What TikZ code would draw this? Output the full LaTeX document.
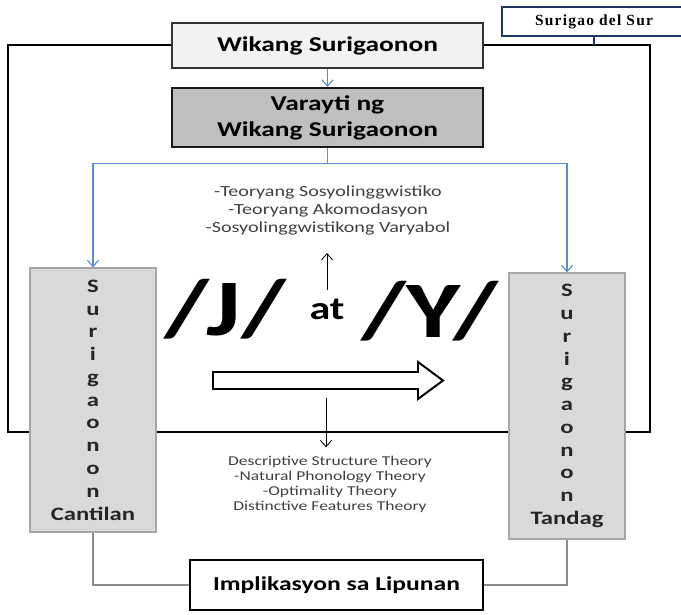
\documentclass[tikz,border=0pt]{standalone}
\usepackage{fontspec}
\setmainfont{Carlito}
\newfontfamily\widefont{Carlito}[FakeStretch=1.3]
\newfontfamily\regionfont{Liberation Serif}[LetterSpace=8]
\usetikzlibrary{arrows.meta,positioning}
\definecolor{linkblue}{HTML}{5B8CCB}
\definecolor{regionblue}{HTML}{1F3864}
\definecolor{inkgray}{HTML}{404040}
\tikzset{
  frame/.style={draw=black, line width=1.8pt},
  regionbox/.style={
    draw=regionblue,
    line width=1.8pt,
    fill=white,
    minimum width=4.6cm,
    minimum height=0.725cm,
    font=\regionfont\bfseries\fontsize{11}{13}\selectfont
  },
  titlebox/.style={
    draw=black!80,
    fill=black!5,
    line width=1.4pt,
    minimum width=7.775cm,
    minimum height=1.125cm,
    align=center,
    font=\widefont\bfseries\fontsize{15}{18.5}\selectfont
  },
  varietybox/.style={
    titlebox,
    draw=black!90,
    fill=black!25,
    line width=1.6pt,
    minimum height=1.475cm
  },
  placebox/.style={
    draw=black!35,
    fill=black!15,
    line width=0.8pt,
    align=center,
    text=black!85,
    font=\widefont\bfseries\fontsize{13.5}{16.2}\selectfont
  },
  impactbox/.style={
    draw=black,
    fill=white,
    line width=2pt,
    minimum width=7.325cm,
    minimum height=1.25cm,
    font=\widefont\bfseries\fontsize{14}{17}\selectfont
  },
  theory/.style={align=center, inner sep=0pt, text=inkgray},
  phoneme/.style={inner sep=0pt, font=\widefont\bfseries\fontsize{57}{60}\selectfont},
  joinword/.style={inner sep=0pt, font=\widefont\bfseries\fontsize{23}{25}\selectfont},
  shiftarrow/.style={draw=black, line width=1.4pt, fill=white},
  pointer/.style={-{Straight Barb[length=1.6mm,width=2.8mm]}, line width=0.6pt},
  bluelink/.style={draw=linkblue, line width=0.8pt, -{Straight Barb[length=1.6mm,width=2.8mm]}},
  bluebranch/.style={draw=linkblue, line width=0.8pt},
  outlink/.style={draw=black!45, line width=0.8pt},
  regionlink/.style={draw=regionblue, line width=1.8pt}
}
\begin{document}
\begin{tikzpicture}[x=0.025cm, y=-0.025cm]
  \useasboundingbox (0,0) rectangle (681,614);

  % outer frame
  \coordinate (frameNW) at (8,45);
  \coordinate (frameSE) at (650,432);
  \draw[frame] (frameNW) rectangle (frameSE);

  \node[regionbox] (region) at (594,21.5) {Surigao del Sur};
  \node[titlebox] (title) at (327.5,45.5) {Wikang Surigaonon};
  \node[varietybox, below=0.45cm of title] (variety) {Varayti ng\\Wikang Surigaonon};

  \node[placebox, minimum width=3.15cm, minimum height=6.6cm] (cantilan) at (93,400)
    {S\\u\\r\\i\\g\\a\\o\\n\\o\\n\\Cantilan};
  \node[placebox, minimum width=2.9cm, minimum height=6.65cm] (tandag) at (567,406)
    {S\\u\\r\\i\\g\\a\\o\\n\\o\\n\\Tandag};

  \node[impactbox] (impact) at (336.5,585) {Implikasyon sa Lipunan};

  \node[theory, font=\widefont\fontsize{11}{12.8}\selectfont] (socio) at (328,210)
    {-Teoryang Sosyolinggwistiko\\-Teoryang Akomodasyon\\-Sosyolinggwistikong Varyabol};
  \node[theory, font=\widefont\fontsize{9.6}{10.7}\selectfont] (structure) at (330,484)
    {Descriptive Structure Theory\\-Natural Phonology Theory\\-Optimality Theory\\Distinctive Features Theory};

  \node[phoneme, anchor=base] (jsound) at (225,335) {/J/};
  \node[joinword, anchor=base] (at) at (327,319) {at};
  \node[phoneme, anchor=base] (ysound) at (430,337) {/Y/};

  % hollow shift arrow
  \draw[shiftarrow] (213,372) -- (418,372) -- (418,362) -- (443,380.5)
    -- (418,399) -- (418,389) -- (213,389) -- cycle;
  \coordinate (dropfoot) at (326,398);

  \draw[pointer, shorten <=0.2cm, shorten >=0.45cm] (at.north) -- (at.north |- socio.south);
  \draw[pointer, shorten >=0.2cm] (dropfoot) -- (dropfoot |- structure.north);

  \draw[bluelink] (title) -- (variety);
  \draw[bluebranch] (variety.south) -- ++(0,15) coordinate (fork);
  \draw[bluelink] (fork) -| (cantilan.north);
  \draw[bluelink] (fork) -| (tandag.north);

  \draw[outlink] (cantilan.south) |- (impact.west);
  \draw[outlink] (tandag.south) |- (impact.east);

  \draw[regionlink] (region.south) -- (region.south |- frameNW);
\end{tikzpicture}
\end{document}
